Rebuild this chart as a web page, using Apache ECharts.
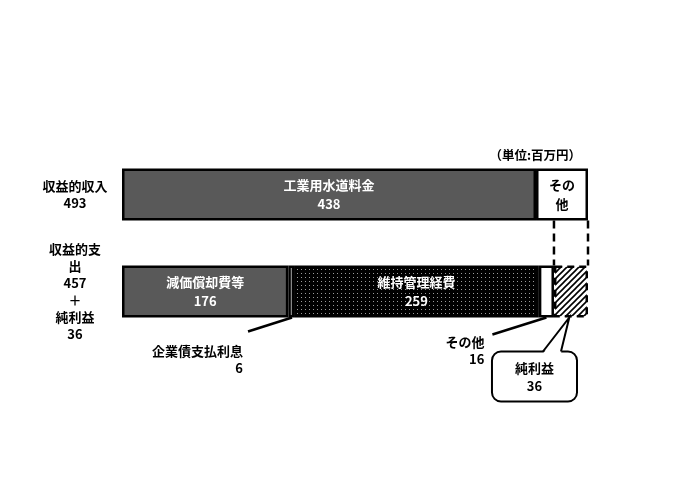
<!DOCTYPE html>
<html>
<head>
<meta charset="UTF-8">
<title>収益的収支</title>
<script src="https://cdn.jsdelivr.net/npm/echarts@6/dist/echarts.min.js"></script>
<style>
  html, body { margin: 0; padding: 0; background: #fff; }
  #main { width: 690px; height: 487px; }
</style>
</head>
<body>
<div id="main"></div>
<script type="text/javascript">
    // データ（単位：百万円）
    var categories = ['収益的収入', '収益的支出'];
    var incomeNames = ['工業用水道料金', 'その他'];
    var incomeValues = [438, 55];
    var expenseNames = ['減価償却費等', '企業債支払利息', '維持管理経費', 'その他', '純利益'];
    var expenseValues = [176, 6, 259, 16, 36];
    var incomeTotal = 493;
    var expenseTotal = 457;
    var profit = 36;

    var FONT = '"Noto Sans CJK JP", "Noto Sans", sans-serif';

    // 網点パターン（維持管理経費）
    function dotPattern() {
        var c = document.createElement('canvas');
        c.width = 4; c.height = 4;
        var ctx = c.getContext('2d');
        ctx.fillStyle = '#000';
        ctx.fillRect(0, 0, 4, 4);
        ctx.fillStyle = '#9a9a9a';
        ctx.fillRect(1, 1, 1, 1);
        return c;
    }
    // 斜線パターン（純利益）
    function hatchPattern() {
        var c = document.createElement('canvas');
        c.width = 6; c.height = 6;
        var ctx = c.getContext('2d');
        ctx.fillStyle = '#fff';
        ctx.fillRect(0, 0, 6, 6);
        ctx.strokeStyle = '#000';
        ctx.lineWidth = 1.6;
        ctx.beginPath();
        ctx.moveTo(-1, 7); ctx.lineTo(7, -1);
        ctx.moveTo(-4, 4); ctx.lineTo(4, -4);
        ctx.moveTo(2, 10); ctx.lineTo(10, 2);
        ctx.stroke();
        return c;
    }

    var fills = {
        '工業用水道料金': '#595959',
        '減価償却費等': '#595959',
        '維持管理経費': { image: dotPattern(), repeat: 'repeat' },
        '純利益': { image: hatchPattern(), repeat: 'repeat' }
    };

    function makeSeries(name, value, row, showLabel, labelText, labelColor) {
        var data = row === 0 ? [value, '-'] : ['-', value];
        return {
            name: name,
            type: 'bar',
            stack: 'total',
            barWidth: 52,
            data: data,
            itemStyle: {
                color: fills[name] || '#fff',
                borderColor: '#000',
                borderWidth: 2.5,
                borderType: name === '純利益' ? [7, 5] : 'solid'
            },
            label: {
                show: showLabel,
                position: 'inside',
                formatter: labelText,
                color: labelColor,
                fontFamily: FONT,
                fontWeight: 'bold',
                fontSize: 13,
                lineHeight: 19
            },
            silent: true
        };
    }

    var series = [
        makeSeries(incomeNames[0], incomeValues[0], 0, true, '{a}\n{c}', '#fff'),
        makeSeries(incomeNames[1], incomeValues[1], 0, true, 'その\n他', '#000'),
        makeSeries(expenseNames[0], expenseValues[0], 1, true, '{a}\n{c}', '#fff'),
        makeSeries(expenseNames[1], expenseValues[1], 1, false),
        makeSeries(expenseNames[2], expenseValues[2], 1, true, '{a}\n{c}', '#fff'),
        makeSeries(expenseNames[3], expenseValues[3], 1, false),
        makeSeries(expenseNames[4], expenseValues[4], 1, false)
    ];

    var rowLabels = [
        categories[0] + '\n' + incomeTotal,
        '収益的支\n出\n' + expenseTotal + '\n＋\n純利益\n' + profit
    ];

    var myChart = echarts.init(document.getElementById('main'));
    var option = {
        animation: false,
        backgroundColor: '#fff',
        title: {
            text: '（単位:百万円）',
            right: 104,
            top: 144,
            textStyle: { fontFamily: FONT, fontWeight: 'bold', fontSize: 12.5, color: '#000' }
        },
        grid: { left: 122, right: 102, top: 146, height: 194 },
        xAxis: { type: 'value', min: 0, max: incomeTotal, show: false },
        yAxis: {
            type: 'category',
            inverse: true,
            data: categories,
            axisLine: { show: false },
            axisTick: { show: false },
            axisLabel: {
                margin: 47,
                align: 'center',
                formatter: function (v, i) { return rowLabels[i]; },
                color: '#000',
                fontFamily: FONT,
                fontWeight: 'bold',
                fontSize: 13,
                lineHeight: 17
            }
        },
        series: series
    };
    myChart.setOption(option);

    // 注記（破線・引出線・吹き出し）
    function px(v, cat) { return myChart.convertToPixel({ gridIndex: 0 }, [v, cat]); }
    var half = 26;
    var topBottom = px(0, categories[0])[1] + half;
    var botTop = px(0, categories[1])[1] - half;
    var botBottom = px(0, categories[1])[1] + half;
    var profitStart = px(expenseTotal, categories[1])[0];
    var profitEnd = px(incomeTotal, categories[1])[0];
    var interestEnd = px(expenseValues[0] + expenseValues[1], categories[1])[0];
    var otherMid = px(expenseTotal - expenseValues[3] / 2, categories[1])[0];
    var profitMid = px(expenseTotal + profit * 0.45, categories[1])[0];

    var txt = { fontFamily: FONT, fontWeight: 'bold', fontSize: 13, fill: '#000' };
    function text(x, y, s, align) {
        return { type: 'text', x: x, y: y, z: 10, style: Object.assign({ text: s, textAlign: align || 'right', textVerticalAlign: 'middle' }, txt) };
    }
    var boxL = profitStart - 62, boxR = profitEnd - 11, boxT = botBottom + 34, boxB = botBottom + 84;
    var pL = profitStart - 11, pR = profitStart + 7;
    myChart.setOption({
        graphic: [
            { type: 'line', shape: { x1: profitStart, y1: topBottom, x2: profitStart, y2: botTop }, style: { stroke: '#000', lineWidth: 2.5, lineDash: [8, 5] } },
            { type: 'line', shape: { x1: profitEnd, y1: topBottom, x2: profitEnd, y2: botTop }, style: { stroke: '#000', lineWidth: 2.5, lineDash: [8, 5] } },
            { type: 'line', shape: { x1: interestEnd - 46, y1: botBottom + 14, x2: interestEnd - 2, y2: botBottom }, style: { stroke: '#000', lineWidth: 2.5 } },
            text(interestEnd - 51, botBottom + 34, '企業債支払利息'),
            text(interestEnd - 51, botBottom + 51, String(expenseValues[1])),
            { type: 'line', shape: { x1: otherMid - 54, y1: botBottom + 17, x2: otherMid, y2: botBottom }, style: { stroke: '#000', lineWidth: 2.5 } },
            text(otherMid - 62, botBottom + 25, expenseNames[3]),
            text(otherMid - 62, botBottom + 42, String(expenseValues[3])),
            // 吹き出し
            { type: 'rect', z: 5, shape: { x: boxL, y: boxT, width: boxR - boxL, height: boxB - boxT, r: 9 }, style: { fill: '#fff', stroke: '#000', lineWidth: 2 } },
            { type: 'polygon', z: 6, shape: { points: [[pL, boxT + 2], [profitMid, botBottom + 1], [pR, boxT + 2]] }, style: { fill: '#fff', stroke: null } },
            { type: 'polyline', z: 7, shape: { points: [[pL, boxT], [profitMid, botBottom], [pR, boxT]] }, style: { stroke: '#000', lineWidth: 2, fill: null } },
            text((boxL + boxR) / 2, boxT + 17, expenseNames[4], 'center'),
            text((boxL + boxR) / 2, boxT + 35, String(profit), 'center')
        ]
    });
</script>
</body>
</html>
